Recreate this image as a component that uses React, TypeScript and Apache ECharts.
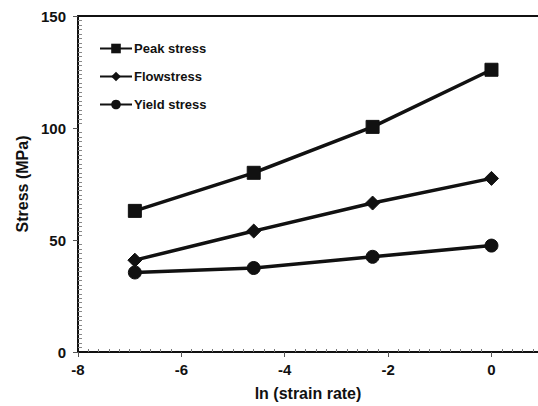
import React, { useEffect, useRef } from "react";
import * as echarts from "echarts";

const lnRate = [-6.9, -4.6, -2.3, 0];
const peakStress = [63, 80, 100.5, 126];
const flowStress = [41, 54, 66.5, 77.5];
const yieldStress = [35.5, 37.5, 42.5, 47.5];
const xTicks = [-8, -6, -4, -2, 0];
const seriesNames = ["Peak stress", "Flowstress", "Yield stress"];

const FONT = "Liberation Sans, Arial, sans-serif";

export default function App() {
  const ref = useRef<HTMLDivElement>(null);
  useEffect(() => {
    if (!ref.current) return;
    const chart = echarts.init(ref.current, null, { renderer: "svg" });
    const mk = (vals: number[]) => lnRate.map((x, i) => [x, vals[i]]);
    const lineSeries = (name: string, vals: number[], symbol: string, size: number) => ({
      name,
      type: "line",
      data: mk(vals),
      symbol,
      symbolSize: size,
      showAllSymbol: true,
      lineStyle: { color: "#111", width: 3.5 },
      itemStyle: { color: "#111", borderColor: "#111" },
      xAxisIndex: 0,
      yAxisIndex: 0,
    });
    chart.setOption({
      animation: false,
      backgroundColor: "#fff",
      grid: { left: 78, right: 0, top: 16, bottom: 53, containLabel: false },
      legend: {
        orient: "vertical",
        left: 94,
        top: 37,
        itemGap: 15,
        itemWidth: 32,
        itemHeight: 12,
        data: seriesNames,
        textStyle: { fontFamily: FONT, fontWeight: "bold", fontSize: 13, color: "#111", padding: [0, 0, 0, -3] },
      },
      xAxis: [
        {
          type: "value",
          min: -8,
          max: 0.9,
          interval: 2,
          position: "bottom",
          name: "ln (strain rate)",
          nameLocation: "middle",
          nameGap: 33,
          nameTextStyle: { fontFamily: FONT, fontWeight: "bold", fontSize: 16, color: "#111" },
          axisLine: { show: true, onZero: false, lineStyle: { color: "#111", width: 2 } },
          axisTick: { show: true, inside: false, length: 5, lineStyle: { color: "#555" } },
          minorTick: { show: false },
          splitLine: { show: false },
          axisLabel: {
            showMaxLabel: false,
            margin: 10,
            fontFamily: FONT,
            fontWeight: "bold",
            fontSize: 15,
            color: "#111",
            formatter: (v: number) => (xTicks.includes(v) ? String(v) : ""),
          },
        },
        {
          type: "value",
          min: -8,
          max: 0.9,
          interval: 2,
          position: "bottom",
          axisLine: { show: false, onZero: false },
          axisTick: { show: false, inside: true },
          minorTick: { show: true, splitNumber: 10, length: 3, lineStyle: { color: "#777" } },
          splitLine: { show: false },
          axisLabel: { show: false },
        },
        {
          type: "value",
          min: -8,
          max: 0.9,
          position: "top",
          axisLine: { show: true, onZero: false, lineStyle: { color: "#111", width: 2 } },
          axisTick: { show: false },
          splitLine: { show: false },
          axisLabel: { show: false },
        },
      ],
      yAxis: [
        {
          type: "value",
          min: 0,
          max: 150,
          interval: 50,
          position: "left",
          name: "Stress (MPa)",
          nameLocation: "middle",
          nameGap: 44,
          nameTextStyle: { fontFamily: FONT, fontWeight: "bold", fontSize: 16, color: "#111" },
          axisLine: { show: true, onZero: false, lineStyle: { color: "#111", width: 2 } },
          axisTick: { show: true, inside: false, length: 5, lineStyle: { color: "#555" } },
          splitLine: { show: false },
          axisLabel: { margin: 12, fontFamily: FONT, fontWeight: "bold", fontSize: 15, color: "#111" },
        },
        {
          type: "value",
          min: 0,
          max: 150,
          interval: 50,
          position: "left",
          axisLine: { show: false, onZero: false },
          axisTick: { show: false, inside: true },
          minorTick: { show: true, splitNumber: 25, length: 4, lineStyle: { color: "#888" } },
          splitLine: { show: false },
          axisLabel: { show: false },
        },
      ],
      series: [
        lineSeries(seriesNames[0], peakStress, "rect", 13),
        lineSeries(seriesNames[1], flowStress, "diamond", 14),
        lineSeries(seriesNames[2], yieldStress, "circle", 13),
      ],
    });
    return () => chart.dispose();
  }, []);
  return <div ref={ref} style={{ width: 538, height: 406, position: "absolute", left: 0, top: 0 }} />;
}
